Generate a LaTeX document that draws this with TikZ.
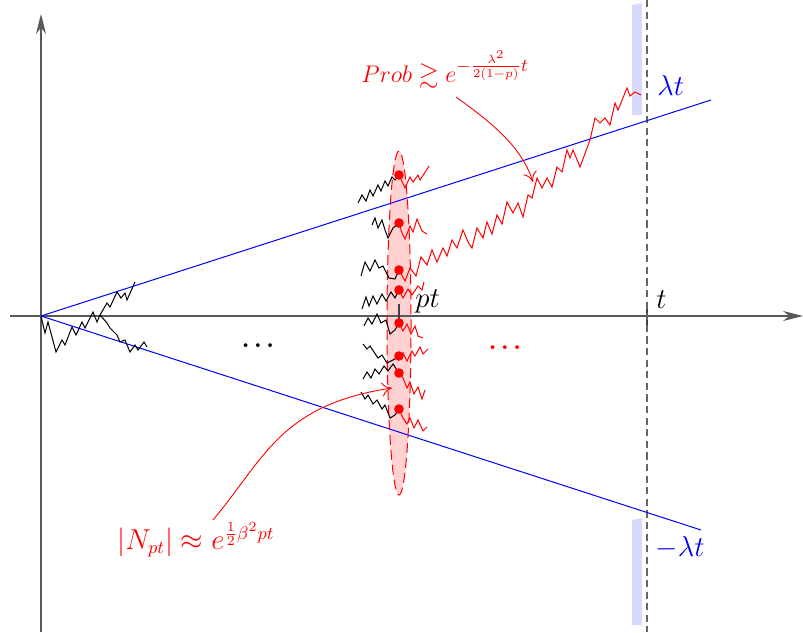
\documentclass[tikz,border=0pt]{standalone}
\usepackage{amssymb}
\usetikzlibrary{arrows.meta}
\begin{document}
\begin{tikzpicture}[x=0.5pt,y=-0.5pt,
  axis/.style={draw=black!65, line width=0.6pt, -{Stealth[length=10pt,width=5pt]}},
  tickmark/.style={draw=black!75, line width=0.6pt},
  walkB/.style={black, line width=0.5pt, line join=miter},
  walkR/.style={red, line width=0.5pt, line join=miter},
  boundary/.style={blue, line width=0.5pt},
  band/.style={fill=blue!15, draw=none},
  reddot/.style={circle, fill=red, inner sep=0pt, minimum size=4.8pt},
  lab/.style={inner sep=1pt, font=\fontsize{14}{16}\selectfont},
  dotslab/.style={inner sep=1pt, font=\fontsize{13}{15}\selectfont\boldmath},
  redlab/.style={inner sep=1pt, text=red},
  callout/.style={red, line width=0.45pt, -{To[length=5pt,width=7pt]}}]
\useasboundingbox (0,0) rectangle (803,632);

% key points
\coordinate (O) at (41,316);
\coordinate (yb) at (41,632);
\coordinate (yt) at (41,14);
\coordinate (xl) at (10,316);
\coordinate (xr) at (803,316);
\coordinate (ub) at (711,100);
\coordinate (lb) at (701,530);
\coordinate (vt) at (647,0);
\coordinate (vb) at (647,632);

% blue bands
\fill[band] (632,5) -- (642,3) -- (642,115) -- (632,115) -- cycle;
\fill[band] (632,520) -- (642,518) -- (642,625) -- (632,625) -- cycle;

% ellipse (fill)
\fill[red!18] (399,323) ellipse [x radius=12, y radius=172];

% axes
\draw[axis] (yb) -- (yt);
\draw[axis] (xl) -- (xr);
\draw[tickmark] (399,304) -- (399,323);
\draw[tickmark] (647,303) -- (647,327);

% dashed vertical at t
\draw[black!60, line width=0.7pt, dash pattern=on 3.6pt off 2.2pt] (vt) -- (vb);

% boundaries
\draw[boundary] (O) -- (ub);
\draw[boundary] (O) -- (lb);

% ellipse outline
\draw[red, line width=0.5pt, dash pattern=on 5pt off 2.5pt] (399,323) ellipse [x radius=12, y radius=172];

% early walk near origin
\coordinate (br) at (100,315);
\draw[walkB] (O) -- (45,333) -- (48,322) -- (56,352) -- (62,340) -- (65,345) -- (72,327)
  -- (76,335) -- (82,322) -- (85,328) -- (93,312) -- (97,322) -- (br);
\draw[walkB] (br) -- (107,303) -- (110,307) -- (117,292) -- (121,298) -- (125,293)
  -- (127,300) -- (135,282);
\draw[walkB] (br) -- (107,323) -- (110,328) -- (117,335) -- (120,342) -- (125,340)
  -- (130,352) -- (135,345) -- (138,350) -- (144,342) -- (147,347);

% particles at time pt
\coordinate (d1) at (399,175);
\coordinate (d2) at (399,223);
\coordinate (d3) at (399,270);
\coordinate (d4) at (399,290);
\coordinate (d5) at (399,323);
\coordinate (d6) at (399,356);
\coordinate (d7) at (399,373);
\coordinate (d8) at (399,409);

% incoming (black) walks
\draw[walkB] (358,203) -- (362,195) -- (366,201) -- (370,190) -- (373,196) -- (378,185)
  -- (381,191) -- (385,181) -- (388,186) -- (392,177) -- (395,180) -- (d1);
\draw[walkB] (372,225) -- (375,218) -- (378,228) -- (382,220) -- (385,230) -- (388,238)
  -- (393,228) -- (d2);
\draw[walkB] (361,276) -- (365,262) -- (370,271) -- (375,260) -- (379,268) -- (383,266)
  -- (389,278) -- (395,279) -- (d3);
\draw[walkB] (362,309) -- (366,297) -- (369,306) -- (373,296) -- (377,304) -- (382,294)
  -- (386,301) -- (391,292) -- (395,298) -- (d4);
\draw[walkB] (364,326) -- (368,318) -- (372,324) -- (377,314) -- (381,323) -- (386,320)
  -- (390,334) -- (395,330) -- (d5);
\draw[walkB] (363,344) -- (367,349) -- (370,346) -- (374,352) -- (378,358) -- (382,355)
  -- (387,363) -- (393,360) -- (d6);
\draw[walkB] (363,379) -- (367,372) -- (371,378) -- (375,369) -- (379,374) -- (384,366)
  -- (388,371) -- (393,364) -- (d7);
\draw[walkB] (361,392) -- (365,399) -- (368,395) -- (373,404) -- (377,400) -- (382,409)
  -- (385,405) -- (390,418) -- (395,415) -- (d8);

% outgoing (red) walks
\draw[walkR] (d1) -- (405,188) -- (410,177) -- (413,182) -- (418,175) -- (420,180) -- (429,166);
\draw[walkR] (d2) -- (402,233) -- (405,239) -- (410,226) -- (413,232) -- (417,219)
  -- (422,231) -- (427,234);
\draw[walkR] (d4) -- (403,298) -- (408,289) -- (412,295) -- (418,286) -- (422,290) -- (424,282);
\draw[walkR] (d5) -- (403,331) -- (407,324) -- (411,334) -- (415,326) -- (418,336) -- (423,338);
\draw[walkR] (d6) -- (403,353) -- (407,361) -- (412,351) -- (415,356) -- (420,347)
  -- (423,354) -- (428,349);
\draw[walkR] (d7) -- (403,378) -- (407,388) -- (410,382) -- (414,394) -- (418,387)
  -- (422,399) -- (425,390);
\draw[walkR] (d8) -- (403,418) -- (407,424) -- (410,418) -- (414,428) -- (418,420)
  -- (423,431) -- (427,427);

% the exceptional particle
\coordinate (lend) at (641,95);
\draw[walkR] (d3) -- (405,281) -- (410,268) -- (416,276) -- (421,257) -- (427,265)
  -- (432,250) -- (437,262) -- (443,248) -- (447,256) -- (452,240) -- (457,248)
  -- (463,230) -- (468,242) -- (472,248) -- (477,228) -- (483,238) -- (487,222)
  -- (492,234) -- (497,215) -- (502,224) -- (507,202) -- (513,213) -- (518,203)
  -- (523,217) -- (528,195) -- (532,198) -- (537,178) -- (542,188) -- (547,178)
  -- (552,187) -- (557,167) -- (562,172) -- (567,150) -- (570,158) -- (573,150)
  -- (580,167) -- (590,140) -- (595,118) -- (600,123) -- (605,118) -- (610,125)
  -- (615,103) -- (618,110) -- (627,88) -- (630,96) -- (635,92) -- (lend);

% dots
\foreach \k in {1,...,8} \node[reddot] (p\k) at (d\k) {};

% labels
\node[lab, anchor=west] (lpt) at (413,301) {$pt$};
\node[lab, anchor=west] (lt) at (654,300) {$t$};
\node[lab, text=blue, anchor=west] (llam) at (655,85) {$\lambda t$};
\node[lab, text=blue, anchor=west] (lmlam) at (653,548) {$-\lambda t$};
\node[dotslab, anchor=base] (dotsA) at (258,347) {$\dots$};
\node[dotslab, text=red, anchor=base] (dotsB) at (505,349) {$\dots$};

\node[redlab, font=\fontsize{12.8}{15}\selectfont] (prob) at (445,70)
  {$Prob \gtrsim e^{-\frac{\lambda^2}{2(1-p)}t}$};
\node[redlab, font=\fontsize{13.5}{16}\selectfont] (npt) at (196,540)
  {$|N_{pt}| \approx e^{\frac12\beta^2 pt}$};

% callout arrows
\coordinate (pa) at (456,97);
\coordinate (pb) at (533,182);
\coordinate (na) at (213,520);
\coordinate (nb) at (392,388);
\draw[callout] (pa) .. controls (495,125) and (522,148) .. (pb);
\draw[callout] (na) .. controls (265,458) and (280,405) .. (nb);
\end{tikzpicture}
\end{document}
